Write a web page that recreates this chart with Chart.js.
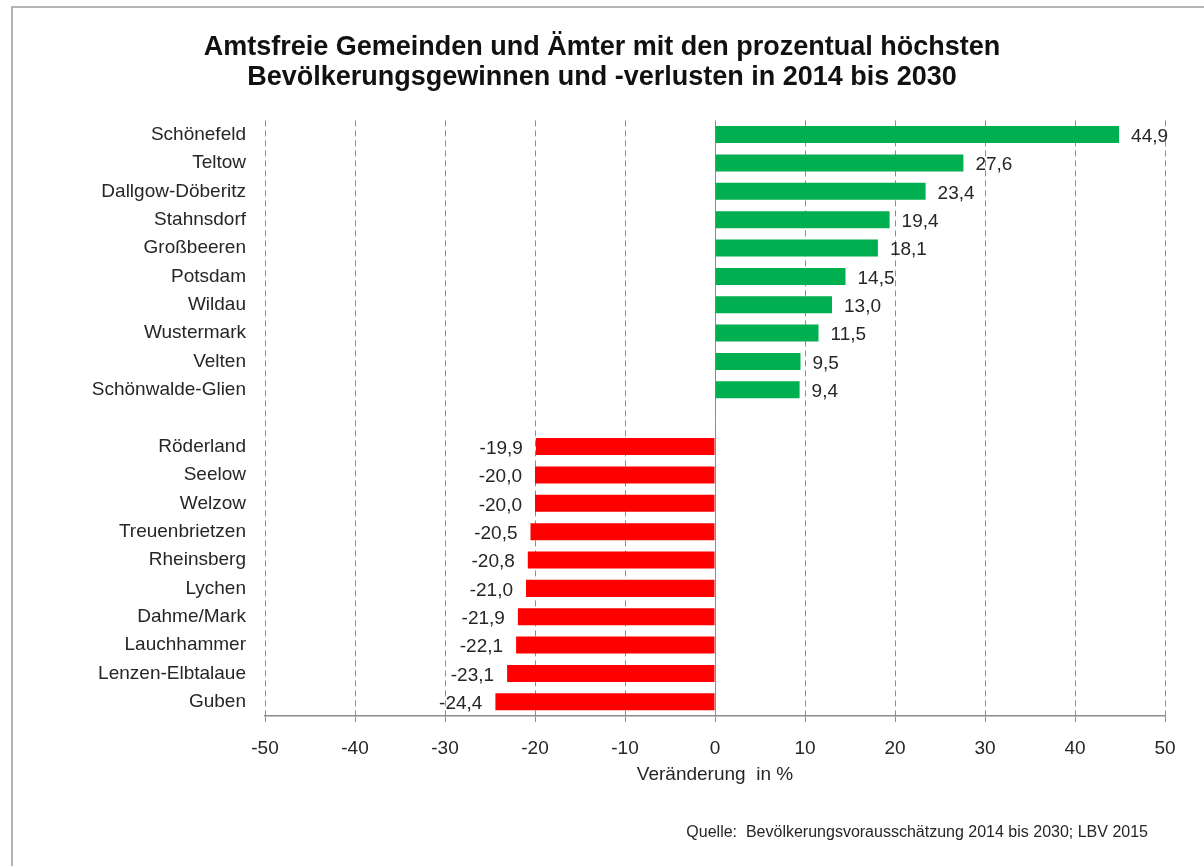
<!DOCTYPE html>
<html>
<head>
<meta charset="utf-8">
<title>Bevölkerungsgewinne und -verluste 2014 bis 2030</title>
<script src="https://cdn.jsdelivr.net/npm/chart.js@4.4.1/dist/chart.umd.min.js"></script>
<style>
  html, body { margin: 0; padding: 0; background: #fff; }
  #frame { position: relative; width: 1204px; height: 866px; }
  #edge {
    position: absolute; left: 11px; top: 6px; right: 0; bottom: 0;
    border-top: 2px solid #b4b4b4; border-left: 2px solid #b4b4b4;
  }
  #chart { position: absolute; left: 0; top: 0; }
</style>
</head>
<body>
<div id="frame">
  <div id="edge"></div>
  <canvas id="chart" width="1204" height="866"></canvas>
</div>
<script>
// Gemeinden (leerer Eintrag = Lücke zwischen Gewinnen und Verlusten)
const gemeinden = [
  "Schönefeld", "Teltow", "Dallgow-Döberitz", "Stahnsdorf", "Großbeeren",
  "Potsdam", "Wildau", "Wustermark", "Velten", "Schönwalde-Glien",
  "",
  "Röderland", "Seelow", "Welzow", "Treuenbrietzen", "Rheinsberg",
  "Lychen", "Dahme/Mark", "Lauchhammer", "Lenzen-Elbtalaue", "Guben",
];
// Veränderung in %
const veraenderung = [
  44.9, 27.6, 23.4, 19.4, 18.1, 14.5, 13.0, 11.5, 9.5, 9.4,
  null,
  -19.9, -20.0, -20.0, -20.5, -20.8, -21.0, -21.9, -22.1, -23.1, -24.4,
];
const xMin = -50;
const xMax = 50;
const xStep = 10;

const titleLines = [
  "Amtsfreie Gemeinden und Ämter mit den prozentual höchsten",
  "Bevölkerungsgewinnen und -verlusten in 2014 bis 2030",
];
const xTitle = "Veränderung  in %";
const quelle = "Quelle:  Bevölkerungsvorausschätzung 2014 bis 2030; LBV 2015";

const GREEN = "#00b050";
const RED = "#ff0000";
const TEXT = "#262626";
const FONT = "'Liberation Sans', Arial, sans-serif";

// Werte neben die Balken schreiben + Quelle unten rechts
const valueLabels = {
  id: "valueLabels",
  afterDatasetsDraw(chart) {
    const ctx = chart.ctx;
    const meta = chart.getDatasetMeta(0);
    ctx.save();
    ctx.font = "19px " + FONT;
    ctx.fillStyle = TEXT;
    ctx.textBaseline = "middle";
    meta.data.forEach((bar, i) => {
      const v = veraenderung[i];
      if (v === null) return;
      const txt = v.toFixed(1).replace(".", ",");
      if (v >= 0) {
        ctx.textAlign = "left";
        ctx.fillText(txt, bar.x + 12, bar.y + 2);
      } else {
        ctx.textAlign = "right";
        ctx.fillText(txt, bar.x - 13, bar.y + 2);
      }
    });
    ctx.restore();
  },
  afterDraw(chart) {
    const ctx = chart.ctx;
    ctx.save();
    ctx.font = "16px " + FONT;
    ctx.fillStyle = TEXT;
    ctx.textAlign = "right";
    ctx.textBaseline = "middle";
    ctx.fillText(quelle, 1148, 833);
    ctx.restore();
  },
};

const chart = new Chart(document.getElementById("chart"), {
  type: "bar",
  data: {
    labels: gemeinden,
    datasets: [
      {
        data: veraenderung,
        backgroundColor: (c) => (c.raw !== null && c.raw < 0 ? RED : GREEN),
        borderWidth: 0,
        categoryPercentage: 1,
        barPercentage: 0.6,
        yAxisID: "y",
      },
    ],
  },
  options: {
    indexAxis: "y",
    responsive: false,
    animation: false,
    events: [],
    layout: { padding: { left: 0, right: 0, top: 0, bottom: 70 } },
    scales: {
      x: {
        min: xMin,
        max: xMax,
        ticks: {
          stepSize: xStep,
          color: TEXT,
          font: { size: 19, family: FONT },
          padding: 15,
          callback: (v) => String(v),
        },
        grid: {
          color: "#8c8c8c",
          lineWidth: 1,
          drawTicks: true,
          tickLength: 6,
          tickColor: "#8c8c8c",
        },
        border: {
          display: true,
          color: "#8c8c8c",
          width: 1.5,
          dash: (c) => (c.type === "tick" && c.tick.value !== 0 ? [6, 4] : []),
        },
        title: {
          display: true,
          text: xTitle,
          color: TEXT,
          font: { size: 19, family: FONT },
          padding: { top: 0, bottom: 10 },
        },
        afterFit: (s) => {
          s.height = 80;
        },
      },
      y: {
        ticks: {
          color: TEXT,
          font: { size: 19, family: FONT },
          padding: 19,
          autoSkip: false,
        },
        grid: { display: false, drawTicks: false },
        border: { display: false },
        afterFit: (s) => {
          s.width = 265;
        },
      },
      // leere rechte Achse als Rand, damit der Titel mittig über dem Bild bleibt
      yRand: {
        position: "right",
        ticks: { display: false },
        grid: { display: false, drawTicks: false },
        border: { display: false },
        afterFit: (s) => {
          s.width = 39;
        },
      },
    },
    plugins: {
      legend: { display: false },
      tooltip: { enabled: false },
      title: {
        display: true,
        text: titleLines,
        color: "#111111",
        font: { size: 27, weight: "bold", family: FONT, lineHeight: 1.1 },
        padding: { top: 33, bottom: 28 },
      },
    },
  },
  plugins: [valueLabels],
});
</script>
</body>
</html>
